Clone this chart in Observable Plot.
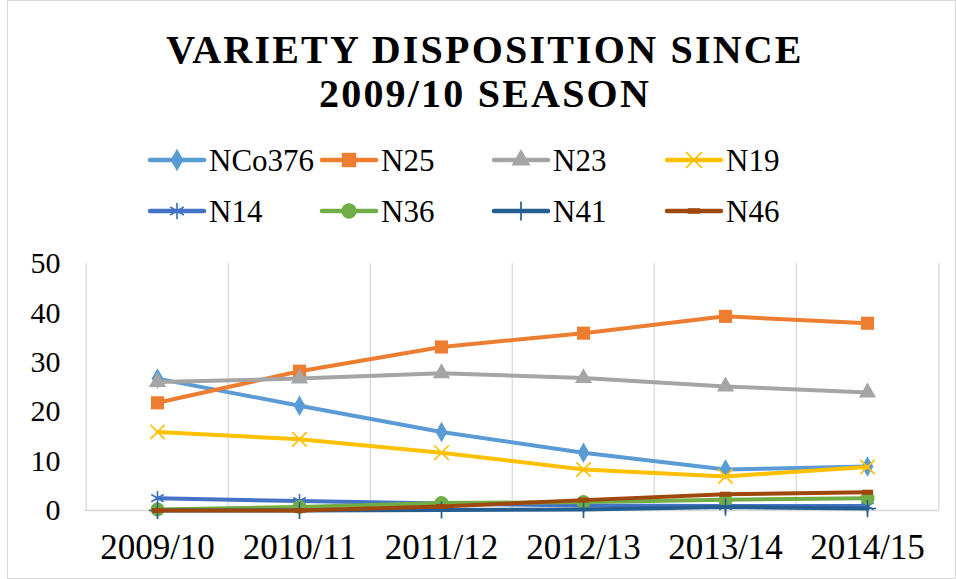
<!DOCTYPE html>
<html>
<head>
<meta charset="utf-8">
<script src="https://cdn.jsdelivr.net/npm/d3@7"></script>
<script src="https://cdn.jsdelivr.net/npm/@observablehq/plot@0.6"></script>
<style>
  html, body { margin: 0; padding: 0; background: #fff; }
  #wrap { position: relative; width: 956px; height: 579px; overflow: hidden; font-family: "Liberation Serif", "Times New Roman", serif; }
  #frame { position: absolute; left: 7px; top: 0px; width: 947px; height: 577px; border: 1px solid #d9d9d9; }
  #title { position: absolute; left: 7px; width: 956px; top: 28px; text-align: center; font-weight: bold; font-size: 40px; line-height: 44px; letter-spacing: 2.2px; color: #000; }
  #legend { position: absolute; left: 0; top: 130px; }
  #chart { position: absolute; left: 0; top: 240px; }
</style>
</head>
<body>
<div id="wrap">
  <div id="frame"></div>
  <div id="title">VARIETY DISPOSITION SINCE<br>2009/10 SEASON</div>
  <div id="legend"></div>
  <div id="chart"></div>
</div>
<script>
// ---- data ----
const seasons = ["2009/10", "2010/11", "2011/12", "2012/13", "2013/14", "2014/15"];
const seriesNames = ["NCo376", "N25", "N23", "N19", "N14", "N36", "N41", "N46"];
const NCo376 = [26.7, 21.2, 15.9, 11.7, 8.3, 8.9];
const N25 = [21.8, 28.2, 33.1, 35.9, 39.3, 37.9];
const N23 = [26.0, 26.7, 27.8, 26.8, 25.1, 23.9];
const N19 = [15.9, 14.4, 11.7, 8.3, 6.9, 8.8];
const N14 = [2.5, 1.9, 1.4, 1.0, 0.9, 0.9];
const N36 = [0.2, 0.7, 1.5, 1.7, 2.2, 2.5];
const N41 = [0.0, 0.0, 0.1, 0.2, 0.7, 0.4];
const N46 = [0.0, 0.0, 0.8, 2.1, 3.3, 3.7];
const yTicks = [0, 10, 20, 30, 40, 50];

// ---- styles ----
const seriesValues = [NCo376, N25, N23, N19, N14, N36, N41, N46];
const seriesColors = ["#5B9BD5", "#ED7D31", "#A5A5A5", "#FFC000", "#4472C4", "#70AD47", "#255E91", "#9E480E"];
const dash = { draw(context, size) { const w = Math.sqrt(size) * 0.9; context.moveTo(-w, 0); context.lineTo(w, 0); } };
const seriesSymbols = [
  { symbol: "diamond", filled: true, r: 6.2 },
  { symbol: "square", filled: true, r: 7.4 },
  { symbol: "triangle", filled: true, r: 6.4 },
  { symbol: "times", filled: false, r: 6.6 },
  { symbol: "asterisk", filled: false, r: 6.8 },
  { symbol: "circle", filled: true, r: 7 },
  { symbol: "plus", filled: false, r: 5.6 },
  { symbol: dash, filled: false, r: 3.5 }
];

const series = seriesNames.map((name, k) => ({
  name, color: seriesColors[k], sym: seriesSymbols[k],
  rows: seasons.map((s, i) => ({ season: s, value: seriesValues[k][i], series: name }))
}));

// ---- chart ----
const W = 956, H = 330, mL = 84, mR = 17, mT = 23, mB = 60;
const step = (W - mL - mR) / seasons.length;
const grid = "#d9d9d9";

const marks = [
  Plot.ruleX(seasons, { stroke: grid, strokeWidth: 1.3, dx: -step / 2 }),
  Plot.ruleX(seasons.slice(-1), { stroke: grid, strokeWidth: 1.3, dx: step / 2 }),
  Plot.ruleY([0], { stroke: grid, strokeWidth: 1.5 }),
  Plot.axisY({ ticks: yTicks, tickSize: 0, tickPadding: 24, fontSize: 30, label: null, tickFormat: d => String(d) }),
  Plot.axisX({ tickSize: 0, tickPadding: 24, fontSize: 35, label: null })
];
for (const s of series) {
  marks.push(Plot.line(s.rows, { x: "season", y: "value", stroke: s.color, strokeWidth: 4, strokeLinejoin: "round", strokeLinecap: "round" }));
  if (s.sym.filled) {
    marks.push(Plot.dot(s.rows, { x: "season", y: "value", symbol: s.sym.symbol, r: s.sym.r, fill: s.color, stroke: "none" }));
  } else {
    marks.push(Plot.dot(s.rows, { x: "season", y: "value", symbol: s.sym.symbol, r: s.sym.r, fill: "none", stroke: s.color, strokeWidth: s.name === "N46" ? 5 : 1.7 }));
  }
}

const chart = Plot.plot({
  width: W, height: H,
  marginLeft: mL, marginRight: mR, marginTop: mT, marginBottom: mB,
  style: { fontFamily: "Liberation Serif, Times New Roman, serif", color: "#000", background: "transparent", overflow: "visible" },
  x: { type: "point", domain: seasons, padding: 0.5 },
  y: { domain: [0, 50] },
  marks
});
document.getElementById("chart").append(chart);

// ---- legend ----
const legendItems = seriesNames.map((name, k) => ({ name, color: seriesColors[k], sym: seriesSymbols[k] }));
const colX = [150, 322, 494, 667];
const rowY = [30, 81];
const lsvg = d3.select("#legend").append("svg").attr("width", 956).attr("height", 110)
  .style("font-family", "Liberation Serif, Times New Roman, serif");
const symMap = { diamond: d3.symbolDiamond, square: d3.symbolSquare, triangle: d3.symbolTriangle, times: d3.symbolTimes, asterisk: d3.symbolAsterisk, circle: d3.symbolCircle, plus: d3.symbolPlus };
legendItems.forEach((it, k) => {
  const x = colX[k % 4], y = rowY[Math.floor(k / 4)];
  const g = lsvg.append("g").attr("transform", `translate(${x},${y})`);
  g.append("line").attr("x1", 0).attr("x2", 54).attr("y1", 0).attr("y2", 0)
    .attr("stroke", it.color).attr("stroke-width", 4.5).attr("stroke-linecap", "round");
  const type = typeof it.sym.symbol === "string" ? symMap[it.sym.symbol] : it.sym.symbol;
  const rr = it.sym.r * 1.1;
  const path = d3.symbol(type, rr * rr * Math.PI)();
  const p = g.append("path").attr("d", path).attr("transform", "translate(27,0)");
  if (it.sym.filled) p.attr("fill", it.color);
  else p.attr("fill", "none").attr("stroke", it.color).attr("stroke-width", it.name === "N46" ? 5.5 : 1.7);
  g.append("text").attr("x", 59).attr("y", 10.5).attr("font-size", 31).attr("fill", "#000").text(it.name);
});
</script>
</body>
</html>
